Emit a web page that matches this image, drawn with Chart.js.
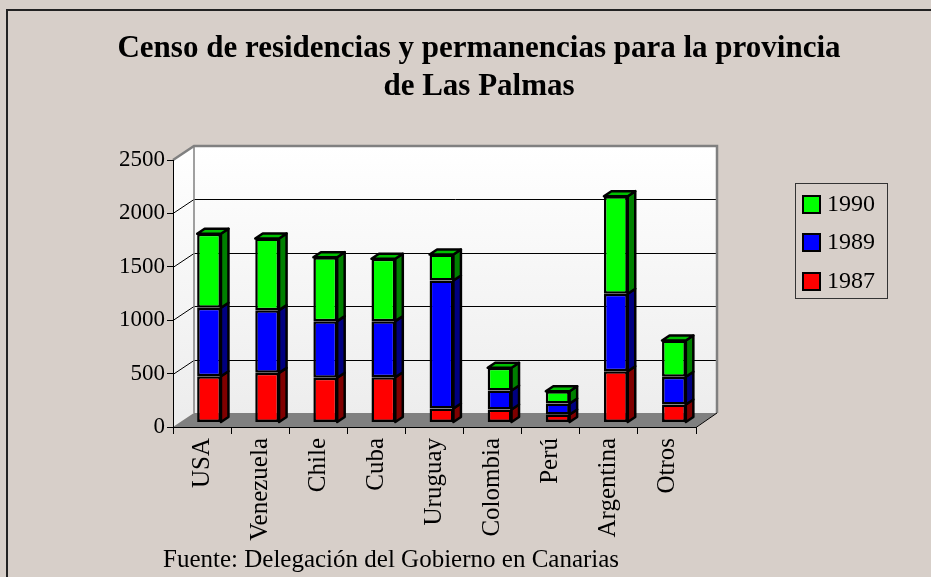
<!DOCTYPE html>
<html>
<head>
<meta charset="utf-8">
<script src="https://cdn.jsdelivr.net/npm/chart.js@4/dist/chart.umd.min.js"></script>
<style>
  html, body { margin: 0; padding: 0; background: #D7CFC9; }
  canvas { display: block; }
</style>
</head>
<body>
<canvas id="censoChart" width="931" height="577"></canvas>
<script>
const paises = ['USA', 'Venezuela', 'Chile', 'Cuba', 'Uruguay', 'Colombia', 'Perú', 'Argentina', 'Otros'];
const datos1987 = [433, 465, 419, 424, 131, 122, 75, 480, 169];
const datos1989 = [641, 587, 530, 525, 1199, 178, 103, 725, 259];
const datos1990 = [693, 671, 599, 584, 243, 212, 115, 914, 340];
const ticksY = [0, 500, 1000, 1500, 2000, 2500];

const tituloLineas = ['Censo de residencias y permanencias para la provincia', 'de Las Palmas'];
const fuente = 'Fuente: Delegación del Gobierno en Canarias';

const serif = "'Liberation Serif', 'Times New Roman', serif";
const fondo = '#D7CFC9';
// desplazamiento de la pared del fondo y de la profundidad de las barras
const pared = { dx: 21, dy: -14 };
const barra = { x: 7, y: -4.5, dx: 7.5, dy: -5 };

const lados = { '1987': '#800000', '1989': '#000080', '1990': '#008000' };
const tapa = '#00C000';

const decorado = {
    id: 'decorado',
    beforeDraw(chart) {
        const ctx = chart.ctx;
        const a = chart.chartArea;
        const y = chart.scales.y;
        ctx.save();
        ctx.fillStyle = fondo;
        ctx.fillRect(0, 0, chart.width, chart.height);

        // marco
        ctx.strokeStyle = '#222';
        ctx.lineWidth = 2;
        ctx.beginPath();
        ctx.moveTo(7, chart.height);
        ctx.lineTo(7, 10);
        ctx.lineTo(chart.width, 10);
        ctx.stroke();

        // título
        ctx.fillStyle = '#000';
        ctx.textAlign = 'center';
        ctx.textBaseline = 'alphabetic';
        ctx.font = 'bold 31px ' + serif;
        ctx.fillText(tituloLineas[0], 479, 57);
        ctx.fillText(tituloLineas[1], 479, 95);

        // fuente
        ctx.textAlign = 'left';
        ctx.font = '25px ' + serif;
        ctx.fillText(fuente, 163, 567);

        const bx = a.left + pared.dx, by = a.top + pared.dy;
        const br = a.right + pared.dx, bb = a.bottom + pared.dy;

        // pared del fondo
        let g = ctx.createLinearGradient(0, by, 0, bb);
        g.addColorStop(0, '#FFFFFF');
        g.addColorStop(1, '#EDEDED');
        ctx.fillStyle = g;
        ctx.fillRect(bx, by, br - bx, bb - by);

        // pared lateral
        ctx.beginPath();
        ctx.moveTo(a.left, a.top);
        ctx.lineTo(bx, by);
        ctx.lineTo(bx, bb);
        ctx.lineTo(a.left, a.bottom);
        ctx.closePath();
        ctx.fill();

        // suelo
        ctx.fillStyle = '#808080';
        ctx.beginPath();
        ctx.moveTo(a.left, a.bottom);
        ctx.lineTo(a.right, a.bottom);
        ctx.lineTo(br, bb);
        ctx.lineTo(bx, bb);
        ctx.closePath();
        ctx.fill();

        // líneas de división
        ctx.strokeStyle = '#000';
        ctx.lineWidth = 1;
        ticksY.slice(1, -1).forEach(v => {
            const py = Math.round(y.getPixelForValue(v)) + 0.5;
            ctx.beginPath();
            ctx.moveTo(a.left, py);
            ctx.lineTo(bx, py + pared.dy);
            ctx.lineTo(br, py + pared.dy);
            ctx.stroke();
        });

        // bordes de las paredes
        ctx.strokeStyle = '#808080';
        ctx.lineWidth = 2.5;
        ctx.beginPath();
        ctx.moveTo(a.left, a.top);
        ctx.lineTo(bx, by);
        ctx.lineTo(br, by);
        ctx.lineTo(br, bb);
        ctx.stroke();
        ctx.lineWidth = 1.5;
        ctx.beginPath();
        ctx.moveTo(bx, by);
        ctx.lineTo(bx, bb);
        ctx.stroke();

        // borde derecho del suelo
        ctx.strokeStyle = '#000';
        ctx.lineWidth = 1;
        ctx.beginPath();
        ctx.moveTo(a.right, a.bottom + 0.5);
        ctx.lineTo(br, bb);
        ctx.stroke();
        ctx.restore();
    },
    beforeDatasetsDraw(chart) {
        chart.ctx.save();
        chart.ctx.translate(barra.x, barra.y);
    },
    afterDatasetsDraw(chart) {
        const ctx = chart.ctx;
        ctx.lineWidth = 2.5;
        ctx.lineJoin = 'round';
        ctx.strokeStyle = '#000';
        const n = chart.data.datasets.length;
        for (let d = 0; d < n; d++) {
            const meta = chart.getDatasetMeta(d);
            const ds = chart.data.datasets[d];
            meta.data.forEach(el => {
                const p = el.getProps(['x', 'y', 'base', 'width'], true);
                const l = p.x - p.width / 2, r = p.x + p.width / 2;
                const t = Math.min(p.y, p.base), b = Math.max(p.y, p.base);
                ctx.fillStyle = lados[ds.label];
                ctx.beginPath();
                ctx.moveTo(r, t);
                ctx.lineTo(r + barra.dx, t + barra.dy);
                ctx.lineTo(r + barra.dx, b + barra.dy);
                ctx.lineTo(r, b);
                ctx.closePath();
                ctx.fill();
                ctx.stroke();
                if (d === n - 1) {
                    ctx.fillStyle = tapa;
                    ctx.beginPath();
                    ctx.moveTo(l, t);
                    ctx.lineTo(l + barra.dx, t + barra.dy);
                    ctx.lineTo(r + barra.dx, t + barra.dy);
                    ctx.lineTo(r, t);
                    ctx.closePath();
                    ctx.fill();
                    ctx.stroke();
                }
            });
        }
        ctx.restore();
    },
    afterDraw(chart) {
        // leyenda
        const ctx = chart.ctx;
        ctx.save();
        ctx.strokeStyle = '#333';
        ctx.lineWidth = 1;
        ctx.strokeRect(795.5, 183.5, 92, 115);
        const items = chart.data.datasets.slice().reverse();
        const ys = [204, 242, 281];
        ctx.font = '24px ' + serif;
        ctx.textBaseline = 'middle';
        ctx.textAlign = 'left';
        items.forEach((ds, i) => {
            ctx.fillStyle = ds.backgroundColor;
            ctx.fillRect(803, ys[i] - 8, 17, 17);
            ctx.lineWidth = 2;
            ctx.strokeStyle = '#000';
            ctx.strokeRect(803, ys[i] - 8, 17, 17);
            ctx.fillStyle = '#000';
            ctx.fillText(ds.label, 827, ys[i] + 1);
        });
        ctx.restore();
    }
};

function serie(label, data, color) {
    return {
        label: label,
        data: data,
        backgroundColor: color,
        borderColor: '#000',
        borderWidth: 2.5,
        borderSkipped: false,
        barPercentage: 1,
        categoryPercentage: 0.41
    };
}

new Chart(document.getElementById('censoChart'), {
    type: 'bar',
    data: {
        labels: paises,
        datasets: [
            serie('1987', datos1987, '#FF0000'),
            serie('1989', datos1989, '#0000FF'),
            serie('1990', datos1990, '#00FF00')
        ]
    },
    options: {
        responsive: false,
        animation: false,
        layout: { padding: { left: 0, right: 235, top: 160, bottom: 0 } },
        plugins: {
            legend: { display: false },
            title: { display: false },
            tooltip: { enabled: false }
        },
        scales: {
            x: {
                stacked: true,
                grid: { drawOnChartArea: false, drawTicks: true, tickLength: 7, color: '#000', offset: true },
                border: { display: true, color: '#000', width: 1 },
                ticks: {
                    color: '#000',
                    font: { family: serif, size: 25 },
                    minRotation: 90,
                    maxRotation: 90,
                    padding: 4
                },
                afterFit(scale) { scale.height = 150; }
            },
            y: {
                stacked: true,
                min: 0,
                max: 2500,
                grid: { drawOnChartArea: false, drawTicks: true, tickLength: 6, color: '#000' },
                border: { display: true, color: '#000', width: 1 },
                ticks: {
                    stepSize: 500,
                    color: '#000',
                    font: { family: serif, size: 23 },
                    padding: 2,
                    callback: v => String(v)
                },
                afterFit(scale) { scale.width = 173; }
            }
        }
    },
    plugins: [decorado]
});
</script>
</body>
</html>
